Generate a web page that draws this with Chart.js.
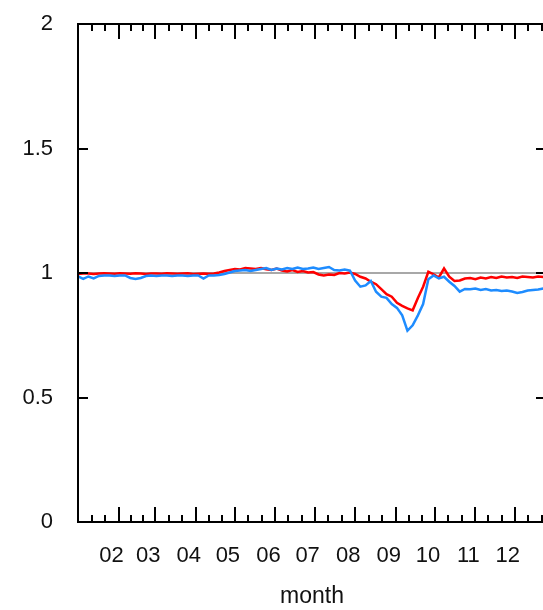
<!DOCTYPE html>
<html>
<head>
<meta charset="utf-8">
<script src="https://cdn.jsdelivr.net/npm/chart.js@4"></script>
<style>
  html, body { margin: 0; padding: 0; background: #fff; overflow: hidden; }
  #wrap { width: 560px; height: 610px; }
</style>
</head>
<body>
<div id="wrap"><canvas id="ratioChart" width="560" height="610"></canvas></div>
<script>
// day of year (0 = Jan 1)
const days = [
  0, 4, 8, 12, 16, 20, 24, 28, 32, 36,
  40, 44, 48, 52, 56, 60, 64, 68, 72, 76,
  80, 84, 88, 92, 96, 100, 104, 108, 112, 116,
  120, 124, 128, 132, 136, 140, 144, 148, 152, 156,
  160, 164, 168, 172, 176, 180, 184, 188, 192, 196,
  200, 204, 208, 212, 216, 220, 224, 228, 232, 236,
  240, 244, 248, 252, 256, 260, 264, 268, 272, 276,
  280, 284, 288, 292, 296, 300, 304, 308, 312, 316,
  320, 324, 328, 332, 336, 340, 344, 348, 352, 356
];

const redValues = [
  0.996, 0.998, 0.998, 0.996, 0.998, 0.999, 0.998, 0.997, 0.999, 0.998,
  0.997, 0.999, 0.998, 0.996, 0.998, 0.998, 0.997, 0.999, 0.998, 0.997,
  0.998, 0.999, 0.996, 0.997, 0.998, 0.997, 0.998, 1.002, 1.008, 1.012,
  1.016, 1.014, 1.020, 1.018, 1.016, 1.020, 1.015, 1.012, 1.018, 1.010,
  1.006, 1.012, 1.004, 1.008, 1.002, 1.004, 0.994, 0.990, 0.994, 0.992,
  1.000, 0.998, 1.002, 0.996, 0.985, 0.978, 0.965, 0.955, 0.935, 0.915,
  0.905, 0.880, 0.868, 0.858, 0.850, 0.900, 0.945, 1.005, 0.995, 0.982,
  1.018, 0.985, 0.968, 0.970, 0.978, 0.980, 0.975, 0.982, 0.978, 0.984,
  0.980, 0.986, 0.982, 0.984, 0.980, 0.986, 0.984, 0.982, 0.986, 0.984
];

const blueValues = [
  0.986, 0.976, 0.986, 0.978, 0.988, 0.990, 0.990, 0.988, 0.990, 0.990,
  0.980, 0.976, 0.980, 0.988, 0.990, 0.988, 0.990, 0.990, 0.988, 0.990,
  0.990, 0.988, 0.990, 0.990, 0.978, 0.990, 0.990, 0.992, 0.996, 1.002,
  1.008, 1.010, 1.012, 1.008, 1.012, 1.016, 1.020, 1.012, 1.018, 1.014,
  1.020, 1.016, 1.022, 1.016, 1.018, 1.022, 1.016, 1.020, 1.024, 1.012,
  1.010, 1.014, 1.010, 0.970, 0.945, 0.950, 0.968, 0.925, 0.905, 0.900,
  0.875, 0.860, 0.830, 0.768, 0.790, 0.830, 0.875, 0.975, 0.990, 0.978,
  0.985, 0.965, 0.948, 0.925, 0.936, 0.935, 0.938, 0.932, 0.936, 0.930,
  0.932, 0.928, 0.930, 0.926, 0.920, 0.924, 0.930, 0.932, 0.934, 0.938
];

const monthStarts = [0, 31, 59, 90, 120, 151, 181, 212, 243, 273, 304, 334, 365];
const monthLabels = ["01", "02", "03", "04", "05", "06", "07", "08", "09", "10", "11", "12"];
const yTicks = [0, 0.5, 1, 1.5, 2];
const refLevel = 1;
const xMax = 358;

const FONT = { family: "'Liberation Sans', Arial, sans-serif", size: 22 };
const TEXT = "#111";

const pts = vals => vals.map((v, i) => ({ x: days[i], y: v }));

// gnuplot-like frame with inward ticks on all four sides
const frameTicks = {
  id: "frameTicks",
  afterDatasetsDraw(chart) {
    const { ctx, chartArea: a, scales: { x, y } } = chart;
    ctx.save();
    ctx.strokeStyle = "#000";
    ctx.lineWidth = 2;
    ctx.beginPath();
    const xTick = (d, len) => {
      const px = Math.round(x.getPixelForValue(d));
      ctx.moveTo(px, a.bottom); ctx.lineTo(px, a.bottom - len);
      ctx.moveTo(px, a.top); ctx.lineTo(px, a.top + len);
    };
    for (let i = 0; i < monthStarts.length - 1; i++) {
      const d = monthStarts[i], next = monthStarts[i + 1];
      if (d > 0 && d < xMax) xTick(d, 15);
      [1, 2].forEach(k => {
        const m = d + (next - d) * k / 3;
        if (m < xMax) xTick(m, 7);
      });
    }
    yTicks.forEach(v => {
      const py = Math.round(y.getPixelForValue(v));
      ctx.moveTo(a.left, py); ctx.lineTo(a.left + 10, py);
      ctx.moveTo(a.right, py); ctx.lineTo(a.right - 10, py);
    });
    ctx.stroke();
    ctx.strokeRect(a.left, a.top, a.width, a.height);
    ctx.restore();
  }
};

new Chart(document.getElementById("ratioChart"), {
  type: "line",
  data: {
    datasets: [
      {
        data: [{ x: 0, y: refLevel }, { x: xMax, y: refLevel }],
        borderColor: "#a8a8a8",
        borderWidth: 2,
        pointRadius: 0,
        order: 3
      },
      {
        data: pts(redValues),
        borderColor: "#ff0000",
        borderWidth: 2.5,
        pointRadius: 0,
        tension: 0,
        order: 2
      },
      {
        data: pts(blueValues),
        borderColor: "#1e8cff",
        borderWidth: 2.5,
        pointRadius: 0,
        tension: 0,
        order: 1
      }
    ]
  },
  options: {
    responsive: false,
    animation: false,
    events: [],
    layout: { padding: { top: 24, right: 14, left: 0, bottom: 0 } },
    plugins: { legend: { display: false }, tooltip: { enabled: false } },
    scales: {
      x: {
        type: "linear",
        min: 0,
        max: xMax,
        grid: { display: false, drawTicks: false },
        border: { display: false },
        afterBuildTicks: s => { s.ticks = monthStarts.slice(1, 12).map(value => ({ value })); },
        afterFit: s => { s.height = 88; s.paddingLeft = 0; s.paddingRight = 0; },
        ticks: {
          autoSkip: false,
          maxRotation: 0,
          minRotation: 0,
          padding: 21,
          labelOffset: -7,
          font: FONT,
          color: TEXT,
          callback: v => monthLabels[monthStarts.indexOf(v)]
        },
        title: {
          display: true,
          text: "month",
          font: { family: FONT.family, size: 23 },
          color: TEXT,
          padding: { top: 0, bottom: 0 }
        }
      },
      y: {
        min: 0,
        max: 2,
        grid: { display: false, drawTicks: false },
        border: { display: false },
        afterBuildTicks: s => { s.ticks = yTicks.map(value => ({ value })); },
        afterFit: s => { s.width = 78; s.paddingTop = 0; s.paddingBottom = 0; },
        ticks: { padding: 25, font: FONT, color: TEXT, callback: v => String(v) }
      }
    }
  },
  plugins: [frameTicks]
});
</script>
</body>
</html>
